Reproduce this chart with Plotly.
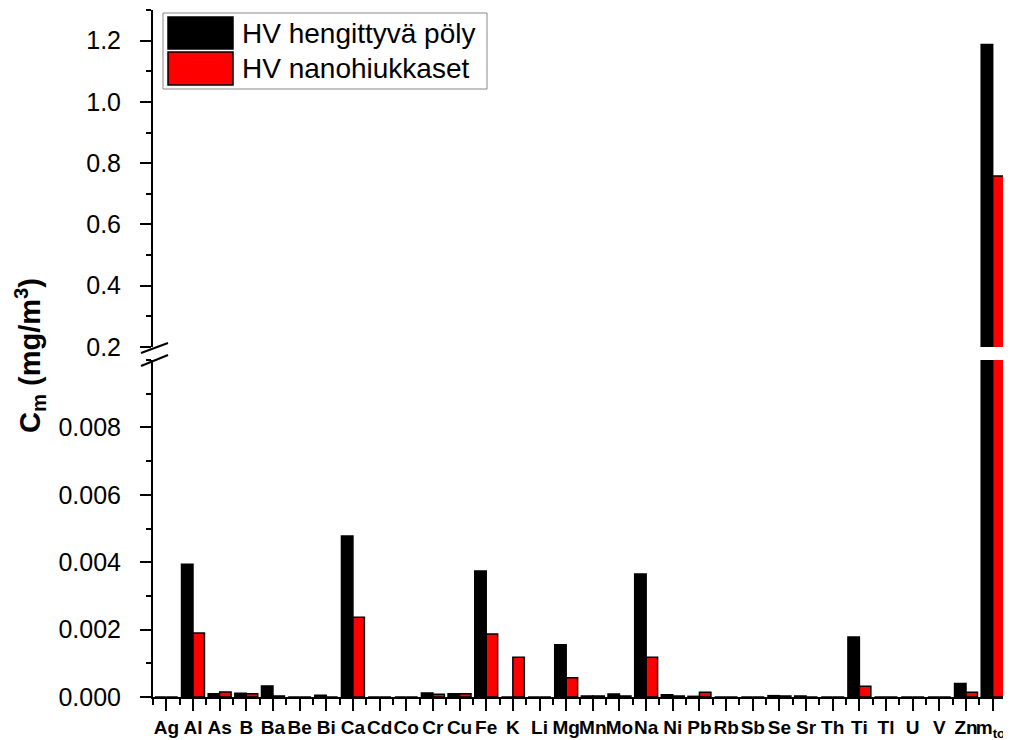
import plotly.graph_objects as go

elements = ["Ag", "Al", "As", "B", "Ba", "Be", "Bi", "Ca", "Cd", "Co", "Cr", "Cu",
            "Fe", "K", "Li", "Mg", "Mn", "Mo", "Na", "Ni", "Pb", "Rb", "Sb", "Se",
            "Sr", "Th", "Ti", "Tl", "U", "V", "Zn", "m<sub>tot</sub>"]

respirable = [0, 0.00394, 0.00010, 0.00011, 0.00033, 0, 0.00005, 0.00478, 0, 0,
              0.00012, 0.00010, 0.00374, 0, 0, 0.00155, 0.00003, 0.00009, 0.00365,
              0.00007, 0.00002, 0, 0, 0.00004, 0.00003, 0, 0.00178, 0, 0, 0,
              0.00040, 1.187]

nano = [0, 0.00190, 0.00015, 0.00010, 0.00003, 0, 0, 0.00237, 0, 0,
        0.00008, 0.00010, 0.00187, 0.00118, 0, 0.00057, 0.00003, 0.00003, 0.00118,
        0.00003, 0.00014, 0, 0, 0.00003, 0, 0, 0.00032, 0, 0, 0,
        0.00014, 0.758]

series_names = ["HV hengittyvä pöly", "HV nanohiukkaset"]
colors = ["#000000", "#ff0000"]

# page body has an 8px margin, so the figure is shifted by 8px
OFF = 8
W, H = 1011 - OFF, 740 - OFF
ML, MR, MT, MB = 153 - OFF, 5, 10 - OFF, 43
PW, PH = W - ML - MR, H - MT - MB


def px(x):
    # screen x (window pixels) -> paper
    return (x - OFF - ML) / PW


def py(y):
    # screen y (window pixels) -> paper
    return (H - MB - (y - OFF)) / PH


font = "Arial, Liberation Sans, sans-serif"
xs = list(range(len(elements)))
bw = 0.43

fig = go.Figure()
for yax in ["y", "y2"]:
    for vals, c, off in zip([respirable, nano], colors, [-bw, 0]):
        fig.add_trace(go.Bar(x=xs, y=vals, yaxis=yax, width=bw, offset=off,
                             marker=dict(color=c, line=dict(color="black", width=1.5)),
                             showlegend=False))

lower_top = py(360)
upper_bot = py(347)

fig.update_layout(
    width=W, height=H,
    margin=dict(l=ML, r=MR, t=MT, b=MB, autoexpand=False),
    paper_bgcolor="white", plot_bgcolor="white",
    barmode="overlay",
    font=dict(family=font, color="black"),
    xaxis=dict(range=[-0.5, len(elements) - 0.5], tickmode="array", tickvals=xs,
               ticktext=elements, tickangle=0, automargin=False,
               showline=True, linewidth=2, linecolor="black",
               ticks="outside", ticklen=12, tickwidth=2, tickcolor="black",
               tickfont=dict(size=19, weight="bold"), showgrid=False, zeroline=False,
               minor=dict(tick0=-0.5, dtick=1, ticks="outside", ticklen=6,
                          tickwidth=2, tickcolor="black", showgrid=False)),
    yaxis=dict(domain=[0, lower_top], range=[0, 0.01], tickvals=[0, 0.002, 0.004, 0.006, 0.008],
               tickformat=".3f", automargin=False, showline=True, linewidth=2, linecolor="black",
               ticks="outside", ticklen=11, tickwidth=2, tickcolor="black",
               tickfont=dict(size=25), showgrid=False, zeroline=False,
               ticklabelstandoff=14,
               minor=dict(tick0=0, dtick=0.001, ticks="outside", ticklen=5,
                          tickwidth=2, tickcolor="black", showgrid=False)),
    yaxis2=dict(domain=[upper_bot, 1], range=[0.2, 1.3], anchor="x", tick0=0.2, dtick=0.2,
                tickformat=".1f", automargin=False, showline=True, linewidth=2, linecolor="black",
                ticks="outside", ticklen=11, tickwidth=2, tickcolor="black",
                tickfont=dict(size=25), showgrid=False, zeroline=False,
                ticklabelstandoff=14,
                minor=dict(tick0=0.1, dtick=0.1, ticks="outside", ticklen=5,
                           tickwidth=2, tickcolor="black", showgrid=False)),
)

# axis break marks
for y0, y1 in [(353, 343), (366, 355)]:
    fig.add_shape(type="line", xref="paper", yref="paper",
                  x0=px(141), y0=py(y0), x1=px(168), y1=py(y1),
                  line=dict(color="black", width=2))

# legend box drawn by hand (large swatches)
fig.add_shape(type="rect", xref="paper", yref="paper",
              x0=px(163), x1=px(487), y0=py(89), y1=py(13),
              line=dict(color="#888888", width=1), fillcolor="white")
for (t, b), c, name in zip([(17, 49), (52, 85)], colors, series_names):
    fig.add_shape(type="rect", xref="paper", yref="paper",
                  x0=px(168), x1=px(233), y0=py(b), y1=py(t),
                  line=dict(color="black", width=1.5), fillcolor=c)
    fig.add_annotation(xref="paper", yref="paper", x=px(240), y=py((t + b) / 2),
                       xanchor="left", yanchor="middle", text=name, showarrow=False,
                       font=dict(size=28, family=font, color="black"))

fig.add_annotation(xref="paper", yref="paper", x=px(30), y=py(355),
                   text="<b>C<sub>m</sub> (mg/m<sup>3</sup>)</b>", textangle=-90,
                   showarrow=False, xanchor="center", yanchor="middle",
                   font=dict(size=29, family=font, color="black"))

fig.write_html("out.html")
